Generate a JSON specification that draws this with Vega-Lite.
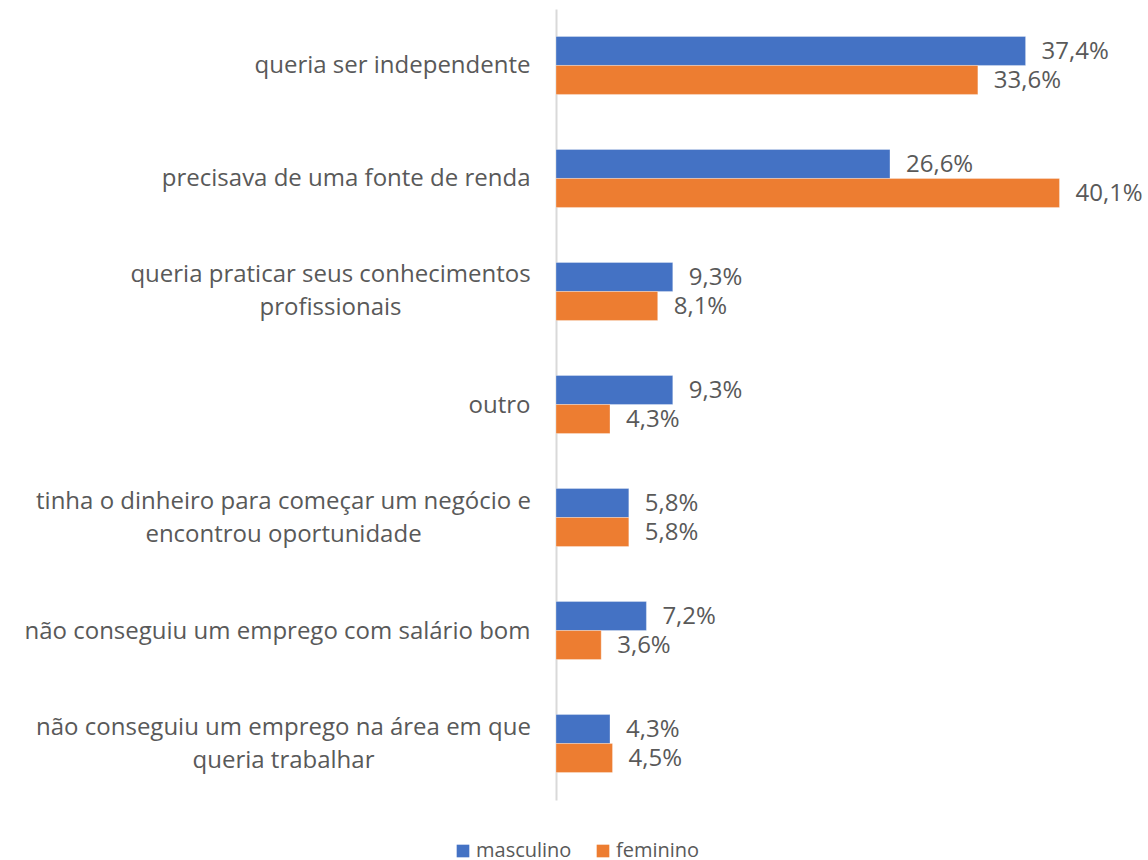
{
  "$schema": "https://vega.github.io/schema/vega-lite/v6.json",
  "width": 565,
  "height": 791,
  "autosize": {"type": "none"},
  "padding": {"left": 556, "top": 9, "right": 27, "bottom": 60},
  "background": "white",
  "config": {"view": {"stroke": null}, "font": "Open Sans"},
  "data": {"values": [
    {"motivo": "queria ser independente", "genero": "masculino", "valor": 37.4},
    {"motivo": "queria ser independente", "genero": "feminino", "valor": 33.6},
    {"motivo": "precisava de uma fonte de renda", "genero": "masculino", "valor": 26.6},
    {"motivo": "precisava de uma fonte de renda", "genero": "feminino", "valor": 40.1},
    {"motivo": "queria praticar seus conhecimentos|profissionais", "genero": "masculino", "valor": 9.3},
    {"motivo": "queria praticar seus conhecimentos|profissionais", "genero": "feminino", "valor": 8.1},
    {"motivo": "outro", "genero": "masculino", "valor": 9.3},
    {"motivo": "outro", "genero": "feminino", "valor": 4.3},
    {"motivo": "tinha o dinheiro para começar um negócio e|encontrou oportunidade", "genero": "masculino", "valor": 5.8},
    {"motivo": "tinha o dinheiro para começar um negócio e|encontrou oportunidade", "genero": "feminino", "valor": 5.8},
    {"motivo": "não conseguiu um emprego com salário bom", "genero": "masculino", "valor": 7.2},
    {"motivo": "não conseguiu um emprego com salário bom", "genero": "feminino", "valor": 3.6},
    {"motivo": "não conseguiu um emprego na área em que|queria trabalhar", "genero": "masculino", "valor": 4.3},
    {"motivo": "não conseguiu um emprego na área em que|queria trabalhar", "genero": "feminino", "valor": 4.5}
  ]},
  "transform": [
    {"calculate": "replace(format(datum.valor, '.1f'), '.', ',') + '%'", "as": "rotulo"}
  ],
  "encoding": {
    "y": {
      "field": "motivo", "type": "nominal", "sort": null,
      "scale": {"paddingInner": 0.487, "paddingOuter": 0.243},
      "axis": {
        "title": null,
        "ticks": false,
        "domainColor": "#D9D9D9",
        "domainWidth": 2,
        "labelExpr": "split(datum.label, '|')",
        "labelFontSize": 24,
        "labelColor": "#595959",
        "labelLimit": 700,
        "labelLineHeight": 33,
        "labelAlign": {"condition": {"test": "indexof(datum.value, '|') >= 0", "value": "center"}, "value": "right"},
        "labelOffset": {"condition": {"test": "indexof(datum.value, '|') >= 0", "value": -16}, "value": 1},
        "labelPadding": {"condition": [
          {"test": "datum.value == 'queria praticar seus conhecimentos|profissionais'", "value": 226},
          {"test": "datum.value == 'tinha o dinheiro para começar um negócio e|encontrou oportunidade'", "value": 273},
          {"test": "datum.value == 'não conseguiu um emprego na área em que|queria trabalhar'", "value": 273}
        ], "value": 26}
      }
    },
    "yOffset": {"field": "genero", "type": "nominal", "sort": ["masculino", "feminino"], "scale": {"paddingInner": 0, "paddingOuter": 0}},
    "x": {
      "field": "valor", "type": "quantitative",
      "scale": {"domain": [0, 45], "nice": false},
      "axis": null
    }
  },
  "layer": [
    {
      "mark": {"type": "bar", "stroke": "white", "strokeWidth": 0.5, "strokeOpacity": 0.6},
      "encoding": {
        "color": {
          "field": "genero", "type": "nominal",
          "scale": {"domain": ["masculino", "feminino"], "range": ["#4472C4", "#ED7D31"]},
          "legend": {
            "title": null,
            "orient": "none",
            "direction": "horizontal",
            "legendX": -103,
            "legendY": 832,
            "symbolType": "square",
            "symbolSize": 160,
            "symbolStrokeWidth": 0,
            "labelFontSize": 20,
            "labelColor": "#595959",
            "columnPadding": 21,
            "labelOffset": 3
          }
        }
      }
    },
    {
      "mark": {"type": "text", "align": "left", "baseline": "middle", "dx": 16, "dy": 1, "fontSize": 24, "color": "#595959"},
      "encoding": {"text": {"field": "rotulo"}}
    }
  ]
}
